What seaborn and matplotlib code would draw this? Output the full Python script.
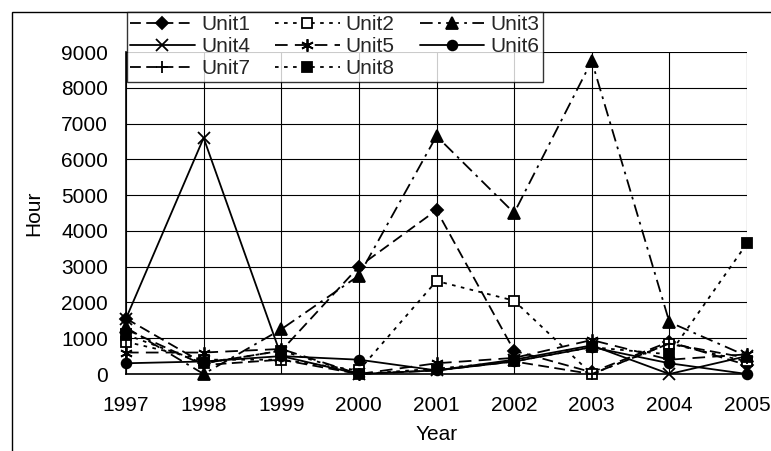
import matplotlib
matplotlib.use("Agg")
import matplotlib.pyplot as plt
import seaborn as sns
import pandas as pd
from matplotlib.lines import Line2D
from matplotlib.patches import Rectangle

years = [1997, 1998, 1999, 2000, 2001, 2002, 2003, 2004, 2005]
unit1 = [1550, 300, 650, 3000, 4580, 650, 50, 900, 250]
unit2 = [900, 400, 400, 100, 2600, 2050, 0, 850, 350]
unit3 = [1300, 0, 1250, 2750, 6650, 4500, 8750, 1450, 500]
unit4 = [1550, 6600, 500, 0, 100, 400, 800, 0, 500]
unit5 = [600, 600, 700, 0, 300, 450, 950, 400, 550]
unit6 = [300, 350, 500, 400, 100, 350, 750, 300, 0]
unit7 = [1250, 250, 400, 0, 100, 350, 0, 850, 450]
unit8 = [1100, 300, 650, 0, 150, 350, 750, 550, 3650]
names = ["Unit1", "Unit2", "Unit3", "Unit4", "Unit5", "Unit6", "Unit7", "Unit8"]
series = [unit1, unit2, unit3, unit4, unit5, unit6, unit7, unit8]

sns.set_theme(style="white")
plt.rcParams['font.family'] = ['Liberation Sans', 'DejaVu Sans']

styles = {
    "Unit1": dict(marker="D", ls=(0, (6, 3)), mfc="black", ms=6),
    "Unit2": dict(marker="s", ls=(0, (2, 3)), mfc="white", ms=7),
    "Unit3": dict(marker="^", ls=(0, (7, 3, 1.5, 3)), mfc="black", ms=8),
    "Unit4": dict(marker="x", ls="-", mfc="black", ms=8),
    "Unit5": dict(marker=(6, 2, 0), ls=(0, (7, 4)), mfc="black", ms=9),
    "Unit6": dict(marker="o", ls="-", mfc="black", ms=7),
    "Unit7": dict(marker="+", ls=(0, (6, 3)), mfc="black", ms=9),
    "Unit8": dict(marker="s", ls=(0, (2, 3)), mfc="black", ms=7),
}

rows = []
for n, s in zip(names, series):
    for y, v in zip(years, s):
        rows.append(dict(Year=y, Hour=v, Unit=n))
df = pd.DataFrame(rows)

fig = plt.figure(figsize=(7.71, 4.51), dpi=100)
ax = fig.add_axes([126/771, 1-374/451, (747-126)/771, (374-52)/451])

handles = {}
for n in names:
    st = styles[n]
    sub = df[df.Unit == n]
    sns.lineplot(data=sub, x="Year", y="Hour", ax=ax, color="black",
                 linestyle=st["ls"], marker=st["marker"], markersize=st["ms"],
                 markerfacecolor=st["mfc"], markeredgecolor="black",
                 markeredgewidth=1.3, linewidth=1.3, clip_on=False, legend=False)
    handles[n] = Line2D([], [], color="black", linestyle=st["ls"], marker=st["marker"],
                        markersize=st["ms"], markerfacecolor=st["mfc"],
                        markeredgecolor="black", markeredgewidth=1.3, linewidth=1.3)

FS = 15
ax.set_xlim(1997, 2005)
ax.set_ylim(0, 9000)
ax.set_xticks(years)
ax.set_yticks(range(0, 9001, 1000))
ax.grid(True, color="black", linewidth=0.8)
ax.set_axisbelow(True)
for s in ["top", "right"]:
    ax.spines[s].set_visible(False)
for s in ["left", "bottom"]:
    ax.spines[s].set_color("black")
    ax.spines[s].set_linewidth(1.2)
ax.tick_params(axis="both", length=0, labelsize=FS, colors="black")
ax.tick_params(axis="x", pad=16)
ax.tick_params(axis="y", pad=13)
ax.set_xlabel("Year", fontsize=FS, color="black")
ax.set_ylabel("Hour", fontsize=FS, color="black")
ax.xaxis.set_label_coords(0.5, (374-425)/322)
ax.yaxis.set_label_coords((43-126)/621, 0.5)

order = ["Unit1", "Unit4", "Unit7", "Unit2", "Unit5", "Unit8", "Unit3", "Unit6"]
leg = fig.legend([handles[n] for n in order], order, ncol=3,
                 loc="upper left", bbox_to_anchor=(127/771, 1-12/451),
                 frameon=True, fancybox=False, edgecolor="black",
                 fontsize=FS, handlelength=3.1, handletextpad=0.3,
                 columnspacing=1.2, borderpad=0.15, labelspacing=0.15,
                 borderaxespad=0)
leg.get_frame().set_linewidth(1.0)

fig.patches.append(Rectangle((12/771, -0.1), 1.2, 1.1 - 12/451, transform=fig.transFigure,
                             fill=False, edgecolor="black", linewidth=1.0))

fig.savefig("out.png", dpi=100)
